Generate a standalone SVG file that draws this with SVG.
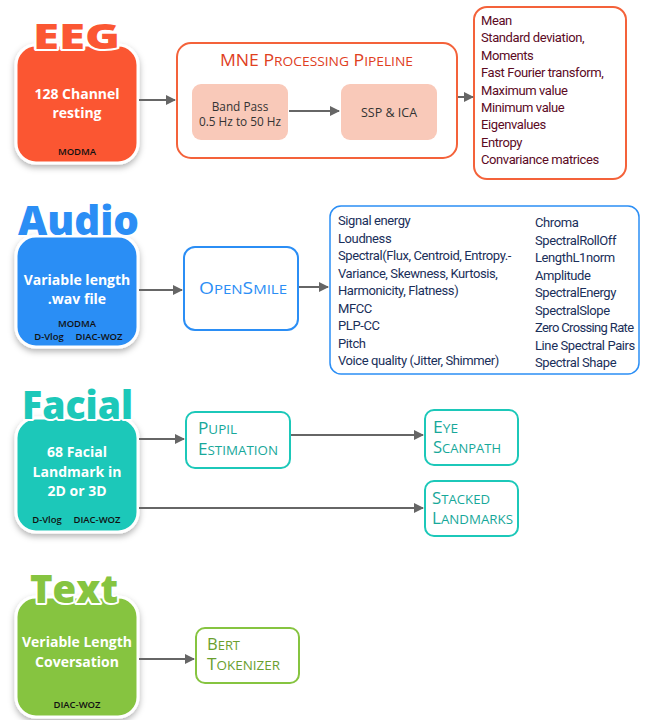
<svg xmlns="http://www.w3.org/2000/svg" width="647" height="720" viewBox="0 0 647 720">
<defs>
<filter id="sh" x="-20%" y="-20%" width="140%" height="140%">
<feDropShadow dx="0" dy="3" stdDeviation="3" flood-color="#000" flood-opacity="0.3"/>
</filter>
<marker id="ah" viewBox="0 0 10 10" refX="9" refY="5" markerWidth="10" markerHeight="10" markerUnits="userSpaceOnUse" orient="auto">
<path d="M0,0 L10,5 L0,10 z" fill="#666"/>
</marker>
<style>
.src{stroke:#fff;stroke-width:3;filter:url(#sh)}
.ttl{font-family:"Open Sans",sans-serif;font-weight:800;stroke:#fff;stroke-width:4;paint-order:stroke;stroke-linejoin:round}
.wt{font-family:"Open Sans",sans-serif;font-weight:700;fill:#fff;font-size:14px;text-anchor:middle}
.ds{font-family:"Open Sans",sans-serif;font-weight:600;fill:#111;font-size:9.5px;text-anchor:middle}
.feat{font-family:"Roboto",sans-serif;font-size:13px;letter-spacing:-0.4px}
.sc{font-family:"Open Sans",sans-serif;font-size:16px;font-weight:500}
.sm{font-size:12.5px}
.con{stroke:#666;stroke-width:2;fill:none;marker-end:url(#ah)}
</style>
</defs>
<rect width="647" height="720" fill="#fff"/>

<g id="eeg">
<rect class="src" x="16" y="45" width="122" height="118" rx="20" fill="#FB5733"/>
<text class="ttl" x="33" y="49" font-size="36" fill="#FB5733" textLength="87" lengthAdjust="spacingAndGlyphs">EEG</text>
<text class="wt" x="77" y="99">128 Channel</text>
<text class="wt" x="77" y="118">resting</text>
<text class="ds" x="77" y="155">MODMA</text>
</g>
<g id="mne">
<rect x="177" y="43" width="280" height="115" rx="14" fill="#fff" stroke="#F4623A" stroke-width="2"/>
<text class="sc" x="220" y="66" fill="#E0401E" font-size="17" textLength="193" lengthAdjust="spacingAndGlyphs">MNE P<tspan class="sm">ROCESSING</tspan> P<tspan class="sm">IPELINE</tspan></text>
</g>
<g id="bandpass">
<rect x="192" y="84" width="96" height="56" rx="9" fill="#F9C9B9"/>
<text font-family="Open Sans,sans-serif" font-size="11.8" fill="#333" text-anchor="middle"><tspan x="240" y="111">Band Pass</tspan><tspan x="240" y="126">0.5 Hz to 50 Hz</tspan></text>
</g>
<g id="sspica">
<rect x="341" y="84" width="96" height="56" rx="9" fill="#F9C9B9"/>
<text font-family="Open Sans,sans-serif" font-size="12.5" fill="#333" text-anchor="middle" x="389" y="117">SSP &amp; ICA</text>
</g>
<g id="eegfeat">
<rect x="474" y="7" width="152" height="172" rx="13" fill="#fff" stroke="#F4623A" stroke-width="2"/>
<text class="feat" fill="#5C0A1F">
<tspan x="481" y="25">Mean</tspan>
<tspan x="481" y="42.4">Standard deviation,</tspan>
<tspan x="481" y="59.8">Moments</tspan>
<tspan x="481" y="77.2">Fast Fourier transform,</tspan>
<tspan x="481" y="94.6">Maximum value</tspan>
<tspan x="481" y="112">Minimum value</tspan>
<tspan x="481" y="129.4">Eigenvalues</tspan>
<tspan x="481" y="146.8">Entropy</tspan>
<tspan x="481" y="164.2">Convariance matrices</tspan>
</text>
</g>

<g id="audio">
<rect class="src" x="16" y="236" width="122" height="111" rx="20" fill="#2B8EF5"/>
<text class="ttl" x="18" y="235" font-size="40" fill="#2B8EF5" textLength="121" lengthAdjust="spacingAndGlyphs">Audio</text>
<text class="wt" x="77" y="285">Variable length</text>
<text class="wt" x="77" y="304">.wav file</text>
<text class="ds" x="77" y="327">MODMA</text>
<text class="ds" x="49" y="340">D-Vlog</text>
<text class="ds" x="99" y="340">DIAC-WOZ</text>
</g>
<g id="opensmile">
<rect x="184" y="247" width="114" height="83" rx="11" fill="#fff" stroke="#2B8EF5" stroke-width="2"/>
<text class="sc" x="199" y="294" fill="#2B8EF5" font-size="17" textLength="88" lengthAdjust="spacingAndGlyphs">O<tspan class="sm">PEN</tspan>S<tspan class="sm">MILE</tspan></text>
</g>
<g id="audiofeat">
<rect x="330" y="206" width="309" height="168" rx="11" fill="#fff" stroke="#2B8EF5" stroke-width="1.5"/>
<text class="feat" fill="#1A2F5A">
<tspan x="338" y="225">Signal energy</tspan>
<tspan x="338" y="242.5">Loudness</tspan>
<tspan x="338" y="260">Spectral(Flux, Centroid, Entropy.-</tspan>
<tspan x="338" y="277.5">Variance, Skewness, Kurtosis,</tspan>
<tspan x="338" y="295">Harmonicity, Flatness)</tspan>
<tspan x="338" y="312.5">MFCC</tspan>
<tspan x="338" y="330">PLP-CC</tspan>
<tspan x="338" y="347.5">Pitch</tspan>
<tspan x="338" y="365">Voice quality (Jitter, Shimmer)</tspan>
</text>
<text class="feat" fill="#1A2F5A">
<tspan x="535" y="227">Chroma</tspan>
<tspan x="535" y="244.5">SpectralRollOff</tspan>
<tspan x="535" y="262">LengthL1norm</tspan>
<tspan x="535" y="279.5">Amplitude</tspan>
<tspan x="535" y="297">SpectralEnergy</tspan>
<tspan x="535" y="314.5">SpectralSlope</tspan>
<tspan x="535" y="332" style="letter-spacing:-0.65px">Zero Crossing Rate</tspan>
<tspan x="535" y="349.5">Line Spectral Pairs</tspan>
<tspan x="535" y="367">Spectral Shape</tspan>
</text>
</g>

<g id="facial">
<rect class="src" x="16" y="418" width="122" height="114" rx="20" fill="#1CC8B9"/>
<text class="ttl" x="22" y="419" font-size="38" fill="#1CC8B9" textLength="111" lengthAdjust="spacingAndGlyphs">Facial</text>
<text class="wt" x="77" y="457">68 Facial</text>
<text class="wt" x="77" y="477">Landmark in</text>
<text class="wt" x="77" y="496">2D or 3D</text>
<text class="ds" x="47" y="523">D-Vlog</text>
<text class="ds" x="97" y="523">DIAC-WOZ</text>
</g>
<g id="pupil">
<rect x="186" y="412" width="104" height="56" rx="9" fill="#fff" stroke="#1CC8B9" stroke-width="2"/>
<text class="sc" fill="#17A89A" x="198" y="434" textLength="39" lengthAdjust="spacingAndGlyphs">P<tspan class="sm">UPIL</tspan></text>
<text class="sc" fill="#17A89A" x="198" y="455" textLength="80" lengthAdjust="spacingAndGlyphs">E<tspan class="sm">STIMATION</tspan></text>
</g>
<g id="eyescan">
<rect x="425" y="410" width="93" height="55" rx="9" fill="#fff" stroke="#1CC8B9" stroke-width="2"/>
<text class="sc" fill="#17A89A" x="433" y="433" textLength="25" lengthAdjust="spacingAndGlyphs">E<tspan class="sm">YE</tspan></text>
<text class="sc" fill="#17A89A" x="433" y="453" textLength="68" lengthAdjust="spacingAndGlyphs">S<tspan class="sm">CANPATH</tspan></text>
</g>
<g id="stacked">
<rect x="425" y="481" width="93" height="55" rx="9" fill="#fff" stroke="#1CC8B9" stroke-width="2"/>
<text class="sc" fill="#17A89A" x="432" y="504" textLength="58" lengthAdjust="spacingAndGlyphs">S<tspan class="sm">TACKED</tspan></text>
<text class="sc" fill="#17A89A" x="432" y="524" textLength="81" lengthAdjust="spacingAndGlyphs">L<tspan class="sm">ANDMARKS</tspan></text>
</g>

<g id="text">
<rect class="src" x="16" y="597" width="122" height="120" rx="20" fill="#86C440"/>
<text class="ttl" x="30" y="603" font-size="38" fill="#86C440" textLength="88" lengthAdjust="spacingAndGlyphs">Text</text>
<text class="wt" x="77" y="647">Veriable Length</text>
<text class="wt" x="77" y="667">Coversation</text>
<text class="ds" x="77" y="708">DIAC-WOZ</text>
</g>
<g id="bert">
<rect x="196" y="628" width="103" height="55" rx="9" fill="#fff" stroke="#86C440" stroke-width="2"/>
<text class="sc" fill="#6A9F2E" x="207" y="650" textLength="33" lengthAdjust="spacingAndGlyphs">B<tspan class="sm">ERT</tspan></text>
<text class="sc" fill="#6A9F2E" x="207" y="670" textLength="73" lengthAdjust="spacingAndGlyphs">T<tspan class="sm">OKENIZER</tspan></text>
</g>

<g id="connectors">
<line class="con" x1="139" y1="100" x2="175" y2="100"/>
<line class="con" x1="289" y1="111" x2="339" y2="111"/>
<line class="con" x1="458" y1="97" x2="473" y2="97"/>
<line class="con" x1="139" y1="290" x2="182" y2="290"/>
<line class="con" x1="299" y1="287" x2="328" y2="287"/>
<line class="con" x1="139" y1="439" x2="184" y2="439"/>
<line class="con" x1="291" y1="435" x2="423" y2="435"/>
<line class="con" x1="139" y1="508" x2="423" y2="508"/>
<line class="con" x1="139" y1="659" x2="194" y2="659"/>
</g>
</svg>
